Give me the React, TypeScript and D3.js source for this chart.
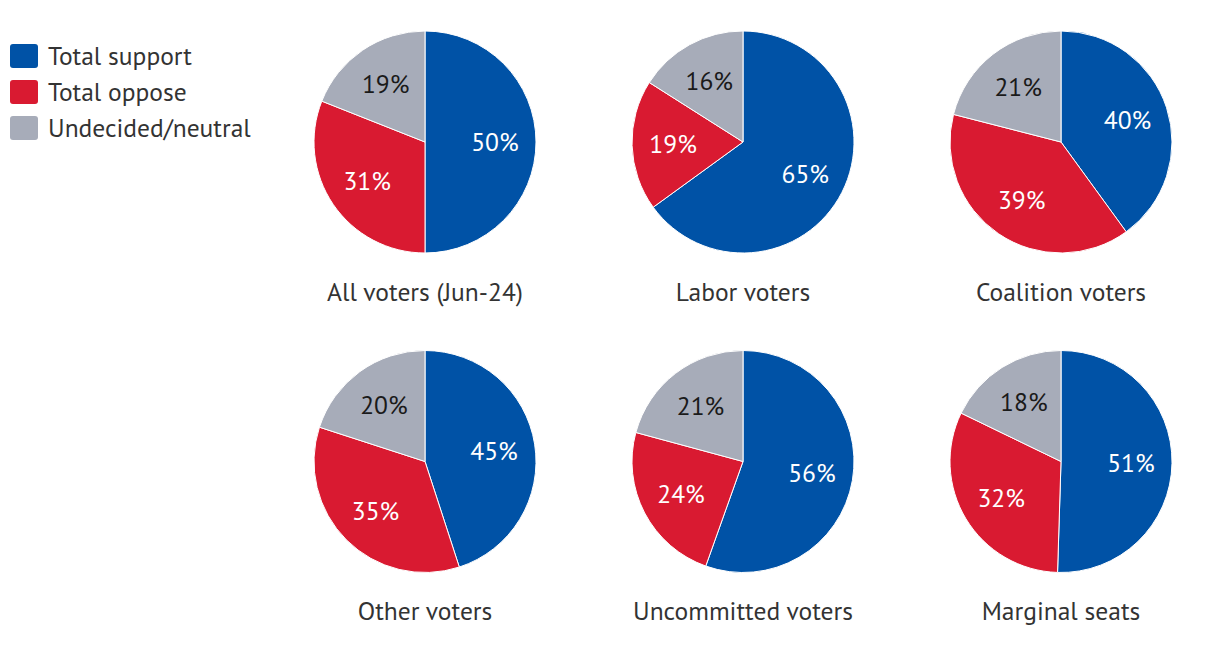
import React from "react";
import * as d3 from "d3";

const groups = ["All voters (Jun-24)", "Labor voters", "Coalition voters", "Other voters", "Uncommitted voters", "Marginal seats"];
const seriesNames = ["Total support", "Total oppose", "Undecided/neutral"];
const support = [50, 65, 40, 45, 56, 51];
const oppose = [31, 19, 39, 35, 24, 32];
const undecided = [19, 16, 21, 20, 21, 18];

const colors = ["#0052a6", "#d91a31", "#a7acb9"];
const labelColors = ["#ffffff", "#ffffff", "#1a1a1a"];
const FONT = "'PT Sans', 'Noto Sans', 'Open Sans', sans-serif";
const FS = 25.5;

export default function App() {
  const W = 1220, H = 660;
  const r = 111;
  const cxs = [425, 743, 1061];
  const cys = [142, 461.5];
  const pie = d3.pie<number>().sort(null).value((d) => d);
  const arc = d3.arc<d3.PieArcDatum<number>>().innerRadius(0).outerRadius(r);
  const labelArc = d3.arc<d3.PieArcDatum<number>>().innerRadius(r * 0.63).outerRadius(r * 0.63);

  return (
    <svg width={W} height={H} style={{ position: "absolute", left: 0, top: 0 }} fontFamily={FONT}>
      {seriesNames.map((s, i) => (
        <g key={s} transform={`translate(0, ${i * 36})`}>
          <rect x={10} y={44} width={28} height={24} rx={3} fill={colors[i]} />
          <text x={48} y={56} dy="0.35em" fontSize={FS} fill="#333">{s}</text>
        </g>
      ))}
      {groups.map((g, gi) => {
        const vals = [support[gi], oppose[gi], undecided[gi]];
        const cx = cxs[gi % 3];
        const cy = cys[Math.floor(gi / 3)];
        const arcs = pie(vals);
        return (
          <g key={g} transform={`translate(${cx}, ${cy})`}>
            {arcs.map((a, i) => (
              <path key={i} d={arc(a) || ""} fill={colors[i]} stroke="#fff" strokeWidth={1} />
            ))}
            {arcs.map((a, i) => {
              const [lx, ly] = labelArc.centroid(a);
              return (
                <text key={"l" + i} x={lx} y={ly} dy="0.35em" textAnchor="middle" fontSize={FS} fill={labelColors[i]}>
                  {vals[i]}%
                </text>
              );
            })}
            <text x={0} y={150} dy="0.35em" textAnchor="middle" fontSize={FS} fill="#333">{g}</text>
          </g>
        );
      })}
    </svg>
  );
}
